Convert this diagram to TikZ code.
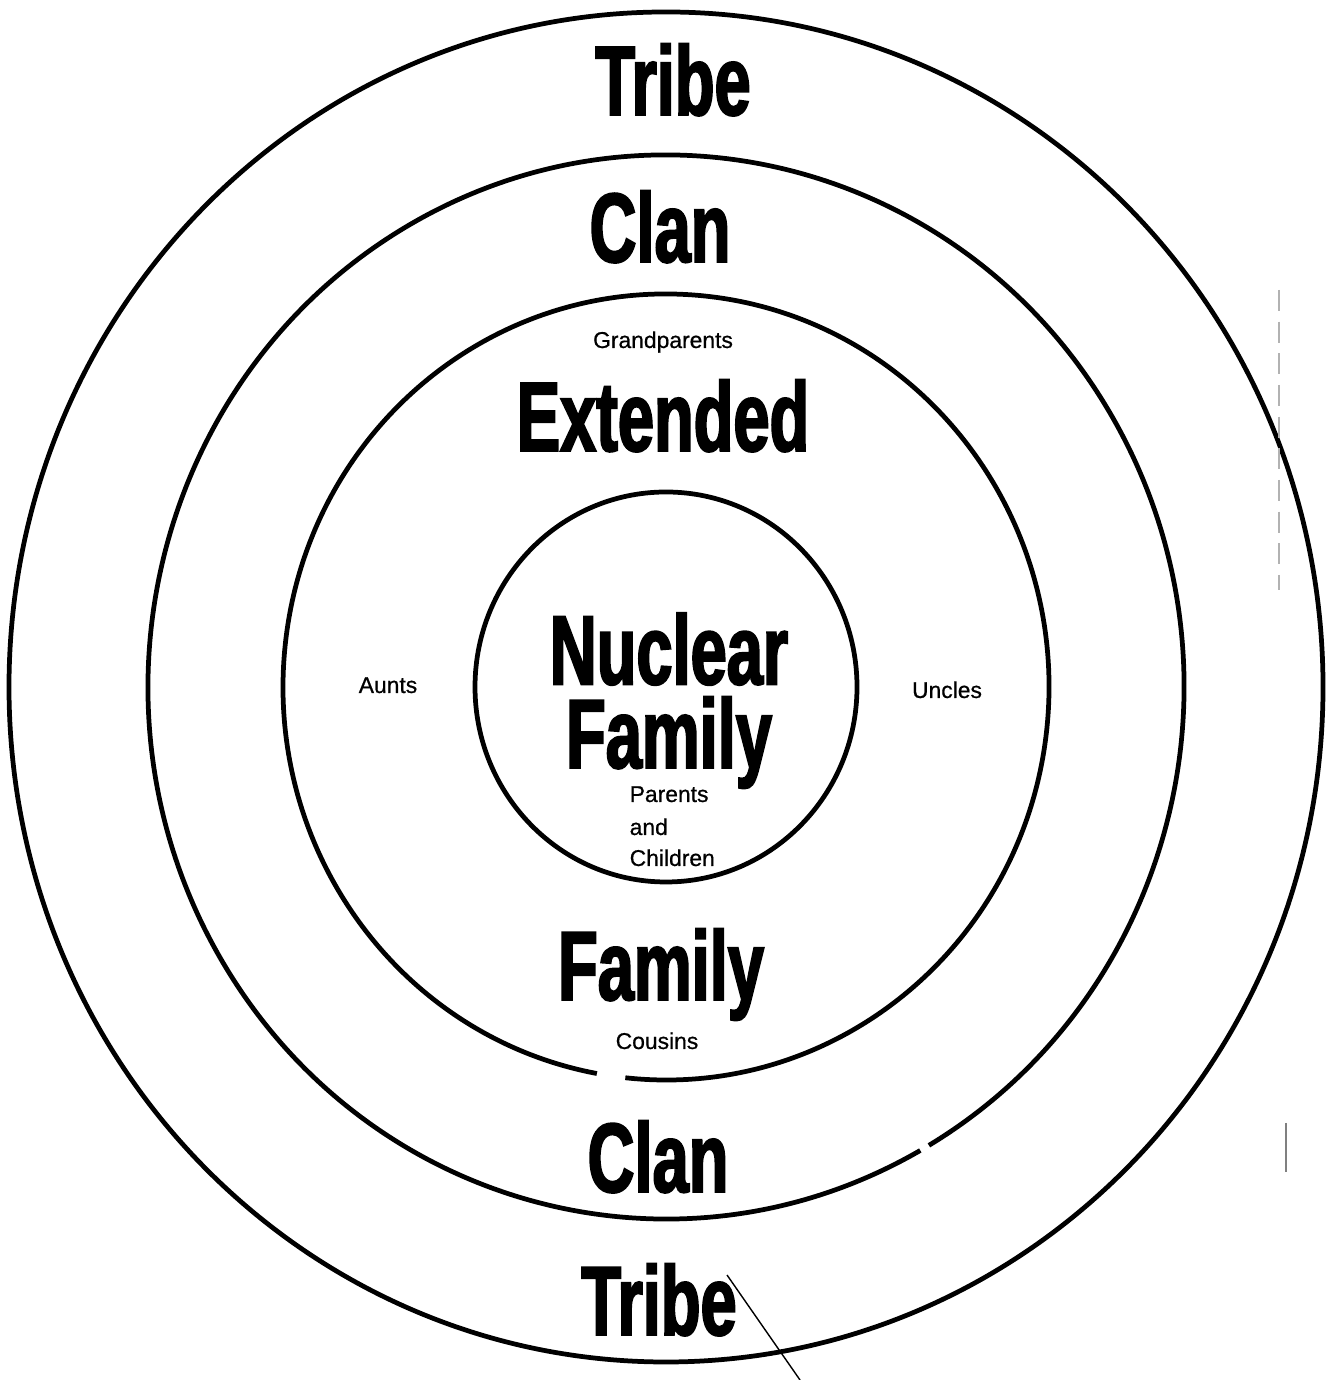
\documentclass[tikz,border=0pt]{standalone}
\usepackage{fontspec}
\usetikzlibrary{calc}
\setmainfont{Liberation Sans}
\newfontfamily\heavy[FakeStretch=0.66,FakeBold=2]{Liberation Sans Bold}
\newfontfamily\smallf[FakeBold=0.7]{Liberation Sans}
\begin{document}
\begin{tikzpicture}[x=0.01cm,y=0.01cm,
  ring/.style={line width=1.35pt,black},
  big/.style={anchor=base,inner sep=0pt,font=\heavy\fontsize{28}{23.8}\selectfont},
  small/.style={anchor=base,inner sep=0pt,font=\smallf\fontsize{6.5}{7}\selectfont},
  scratch/.style={line width=0.4pt,black}]
\useasboundingbox[fill=white] (0,0) rectangle (1333,1380);
% rings
\coordinate (c) at (666,693);
\draw[ring] (c) ellipse[x radius=657,y radius=675];
\draw[ring] ($(c)+({518*cos(-59.5)},{532*sin(-59.5)})$) arc[start angle=-59.5,end angle=299.4,x radius=518,y radius=532];
\draw[ring] ($(c)+({383*cos(263.9)},{393*sin(263.9)})$) arc[start angle=263.9,end angle=619.6,x radius=383,y radius=393];
\draw[ring] (c) ellipse[x radius=191,y radius=195];
% big labels
\node[big] (tribetop) at (673,1265) {Tribe};
\node[big] (clantop) at (660,1118) {Clan};
\node[big] (extended) at (663,929) {Extended};
\node[big,align=center] (nuclear) at (669,612) {Nuclear\\Family};
\node[big] (familyout) at (661,380) {Family};
\node[big] (clanbot) at (658,188) {Clan};
\node[big] (tribebot) at (659,45) {Tribe};
% small labels
\node[small] (grand) at (663,1032) {Grandparents};
\node[small] (aunts) at (388,687) {Aunts};
\node[small] (uncles) at (947,682) {Uncles};
\node[small,anchor=base west] (parents) at (629,578) {Parents};
\node[small,anchor=base west] (and) at (629,545) {and};
\node[small,anchor=base west] (children) at (629,514) {Children};
\node[small] (cousins) at (657,331) {Cousins};
% stray strokes of the scan
\coordinate (d1) at (727,105);
\coordinate (d2) at (800,0);
\draw[scratch] (d1) -- (d2);
\coordinate (v1) at (1286,257);
\coordinate (v2) at (1286,208);
\draw[scratch,gray] (v1) -- (v2);
\coordinate (w1) at (1279,1090);
\coordinate (w2) at (1279,790);
\draw[scratch,gray!60,dash pattern=on 6pt off 3pt] (w1) -- (w2);
\end{tikzpicture}
\end{document}
